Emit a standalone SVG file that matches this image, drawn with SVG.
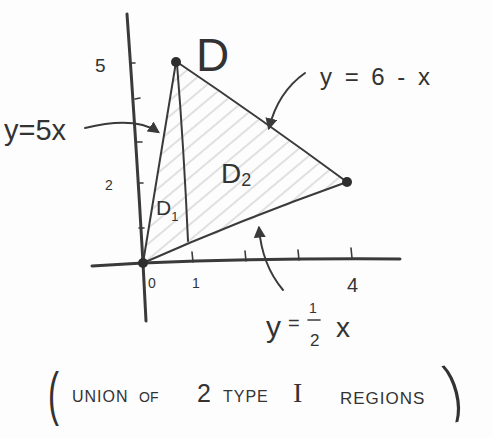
<svg xmlns="http://www.w3.org/2000/svg" width="493" height="438" viewBox="0 0 493 438">
<style>
.ink{fill:none;stroke:#3a3a3a;stroke-linecap:round;stroke-linejoin:round}
.axis{stroke-width:3}
.edge{stroke-width:2}
.tick{stroke-width:1.6}
.txt{font-family:"Liberation Sans","DejaVu Sans",sans-serif;fill:#333}
.serif{font-family:"Liberation Serif","DejaVu Serif",serif}
.dot{fill:#2e2e2e}
</style>
<defs>
<pattern id="hatch" width="12" height="12" patternUnits="userSpaceOnUse" patternTransform="rotate(-40)">
<line x1="0" y1="6" x2="12" y2="6" stroke="#c8c8c8" stroke-width="1.1"/>
</pattern>
<marker id="ah" viewBox="0 0 10 10" refX="8" refY="5" markerWidth="6" markerHeight="6" orient="auto-start-reverse" markerUnits="strokeWidth">
<path d="M0,0 L10,5 L0,10 Z" fill="#3a3a3a"/>
</marker>
</defs>
<rect width="493" height="438" fill="#fdfdfd"/>

<g id="region">
<polygon points="143,263 176,62 347,182" fill="url(#hatch)"/>
</g>

<g id="axes">
<path class="ink axis" d="M127,14 Q136,140 143,263 L146,321"/>
<path class="ink axis" d="M92,266 L143,263 Q270,258 400,259"/>
<path class="ink tick" d="M130,63 L135,63 M135,99 L140,98 M136,142 L142,142 M138,183 L143,183 M139,228 L144,228"/>
<path class="ink tick" d="M192,252 L193,262 M245,251 L246,261 M298,250 L299,260 M351,248 L352,258"/>
</g>

<g id="triangle">
<path class="ink edge" d="M143,263 L176,62"/>
<path class="ink edge" d="M177,62 Q260,118 347,182"/>
<path class="ink edge" d="M143,263 Q240,220 347,182"/>
<path class="ink edge" d="M177,64 Q184,150 188,241"/>
<circle class="dot" cx="143" cy="263" r="5"/>
<circle class="dot" cx="176" cy="62" r="5"/>
<circle class="dot" cx="347" cy="182" r="5"/>
</g>

<g id="connectors">
<path class="ink edge" d="M85,128 Q135,116 158,132" marker-end="url(#ah)"/>
<path class="ink edge" d="M305,73 Q278,92 269,128" marker-end="url(#ah)"/>
<path class="ink edge" d="M283,290 Q262,265 259,228" marker-end="url(#ah)"/>
</g>

<g id="labels">
<text class="txt" x="196" y="71" font-size="46">D</text>
<text class="txt" x="95" y="72" font-size="19">5</text>
<text class="txt" x="105" y="190" font-size="14">2</text>
<text class="txt" x="148" y="288" font-size="14">0</text>
<text class="txt" x="192" y="288" font-size="14">1</text>
<text class="txt" x="347" y="292" font-size="20">4</text>
<text class="txt" x="156" y="215" font-size="21">D<tspan font-size="13" dy="6">1</tspan></text>
<text class="txt" x="221" y="183" font-size="28">D<tspan font-size="18" dy="3">2</tspan></text>
</g>

<g id="label-5x">
<text class="txt" x="4" y="140" font-size="29">y=5x</text>
</g>
<g id="label-6mx">
<text class="txt" x="320" y="85" font-size="24" letter-spacing="3">y = 6 - x</text>
</g>
<g id="label-halfx">
<text class="txt" x="266" y="337" font-size="30">y</text>
<text class="txt" x="288" y="330" font-size="20">=</text>
<text class="txt" x="309" y="313" font-size="14">1</text>
<path class="ink tick" d="M308,320 L320,320"/>
<text class="txt" x="310" y="346" font-size="17">2</text>
<text class="txt" x="336" y="337" font-size="28">x</text>
</g>

<g id="caption">
<text class="txt" font-size="60" transform="translate(48 414) scale(0.55 1)">(</text>
<text class="txt" x="72" y="402" font-size="16" letter-spacing="1">UNION</text>
<text class="txt" x="139" y="402" font-size="14">OF</text>
<text class="txt" x="197" y="402" font-size="25">2</text>
<text class="txt" x="223" y="402" font-size="16" letter-spacing="1">TYPE</text>
<text class="txt serif" x="293" y="402" font-size="28">I</text>
<text class="txt" x="340" y="404" font-size="17" letter-spacing="1">REGIONS</text>
<text class="txt" font-size="62" transform="translate(452 410) rotate(-14) scale(0.6 1)">)</text>
</g>
</svg>
